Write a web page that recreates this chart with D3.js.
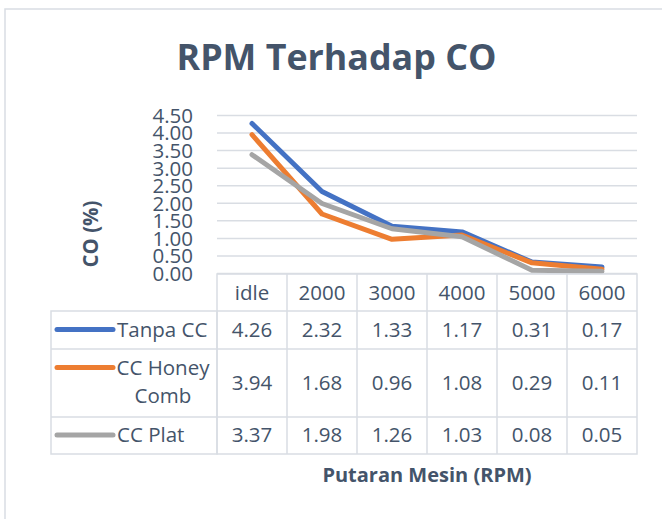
<!DOCTYPE html>
<html><head><meta charset="utf-8">
<script src="https://cdn.jsdelivr.net/npm/d3@7"></script>
<style>html,body{margin:0;padding:0;background:#fff}svg{display:block;font-family:"Open Sans",sans-serif}</style>
</head><body>
<svg id="c" width="662" height="519"></svg>
<script>
const categories = ["idle","2000","3000","4000","5000","6000"];
const seriesNames = ["Tanpa CC","CC Honey Comb","CC Plat"];
const tanpaCC = [4.26,2.32,1.33,1.17,0.31,0.17];
const ccHoneyComb = [3.94,1.68,0.96,1.08,0.29,0.11];
const ccPlat = [3.37,1.98,1.26,1.03,0.08,0.05];
const yTicks = [0,0.5,1,1.5,2,2.5,3,3.5,4,4.5];
const title = "RPM Terhadap CO";
const xTitle = "Putaran Mesin (RPM)";
const yTitle = "CO (%)";

(function(){
const colors = ["#4472C4","#ED7D31","#A5A5A5"];
const seriesValues = [tanpaCC, ccHoneyComb, ccPlat];
const textCol = "#44546A";
const gridCol = "#D9DDE3";

const svg = d3.select("#c");
svg.append("rect").attr("x",5).attr("y",9).attr("width",700).attr("height",560)
  .attr("fill","#fff").attr("stroke",gridCol).attr("stroke-width",1.5);

svg.append("text").attr("x",336.5).attr("y",70).attr("text-anchor","middle")
  .attr("font-size",35.8).attr("font-weight","bold").attr("fill",textCol).text(title);

const pLeft = 217, pRight = 637, pTop = 115, pZero = 273;
const x = d3.scaleBand().domain(categories).range([pLeft,pRight]);
const y = d3.scaleLinear().domain([0,4.5]).range([pZero,pTop]);

const ax = svg.append("g").attr("transform",`translate(${pLeft},0)`)
  .call(d3.axisLeft(y).tickValues(yTicks).tickFormat(d3.format(".2f")).tickSize(-(pRight-pLeft)).tickPadding(24));
ax.select(".domain").remove();
ax.selectAll(".tick line").attr("stroke",gridCol).attr("stroke-width",1.5);
ax.selectAll(".tick text").attr("font-size",20.5).attr("fill",textCol)
  .attr("font-family","'Open Sans',sans-serif").attr("dy","0.36em");

svg.append("text").attr("transform","translate(98,234) rotate(-90)").attr("text-anchor","middle")
  .attr("font-size",20.5).attr("font-weight","bold").attr("fill",textCol).text(yTitle);

const line = d3.line().x((d,i)=>x(categories[i])+x.bandwidth()/2).y(d=>y(d));
seriesValues.forEach((vals,k)=>{
  svg.append("path").datum(vals).attr("d",line).attr("fill","none")
    .attr("stroke",colors[k]).attr("stroke-width",5)
    .attr("stroke-linejoin","round").attr("stroke-linecap","round");
});

const tableLeft = 51;
const rowEdges = [274,311,349,417,454];
const tg = svg.append("g");
const bstyle = s=>s.attr("stroke",gridCol).attr("stroke-width",1.5).attr("fill","none");
bstyle(tg.append("rect").attr("x",pLeft).attr("y",rowEdges[0]).attr("width",pRight-pLeft).attr("height",rowEdges[4]-rowEdges[0]));
bstyle(tg.append("rect").attr("x",tableLeft).attr("y",rowEdges[1]).attr("width",pLeft-tableLeft).attr("height",rowEdges[4]-rowEdges[1]));
for(let r=2;r<4;r++) bstyle(tg.append("line").attr("x1",tableLeft).attr("x2",pRight).attr("y1",rowEdges[r]).attr("y2",rowEdges[r]));
bstyle(tg.append("line").attr("x1",pLeft).attr("x2",pRight).attr("y1",rowEdges[1]).attr("y2",rowEdges[1]));
categories.forEach((c,i)=>{ if(i>0) bstyle(tg.append("line").attr("x1",x(c)).attr("x2",x(c)).attr("y1",rowEdges[0]).attr("y2",rowEdges[4])); });

categories.forEach(c=>{
  tg.append("text").attr("x",x(c)+x.bandwidth()/2).attr("y",299.5).attr("text-anchor","middle")
    .attr("font-size",20.5).attr("fill",textCol).text(c);
});
const valueBase = [337,390,442];
const legendY = [329.5,367.5,435];
seriesValues.forEach((vals,k)=>{
  vals.forEach((v,i)=>{
    tg.append("text").attr("x",x(categories[i])+x.bandwidth()/2).attr("y",valueBase[k]).attr("text-anchor","middle")
      .attr("font-size",20.5).attr("fill",textCol).text(d3.format(".2f")(v));
  });
  tg.append("line").attr("x1",57).attr("x2",113).attr("y1",legendY[k]).attr("y2",legendY[k])
    .attr("stroke",colors[k]).attr("stroke-width",5).attr("stroke-linecap","round");
});
tg.append("text").attr("x",117).attr("y",337).attr("font-size",20.5).attr("fill",textCol).text(seriesNames[0]);
const words = seriesNames[1].split(" ");
tg.append("text").attr("x",163).attr("y",375).attr("text-anchor","middle").attr("font-size",20.5).attr("fill",textCol).text(words.slice(0,2).join(" "));
tg.append("text").attr("x",163).attr("y",403).attr("text-anchor","middle").attr("font-size",20.5).attr("fill",textCol).text(words.slice(2).join(" "));
tg.append("text").attr("x",117).attr("y",442).attr("font-size",20.5).attr("fill",textCol).text(seriesNames[2]);

svg.append("text").attr("x",427).attr("y",482).attr("text-anchor","middle")
  .attr("font-size",20).attr("font-weight","bold").attr("fill",textCol).text(xTitle);
})();
</script>
</body></html>
